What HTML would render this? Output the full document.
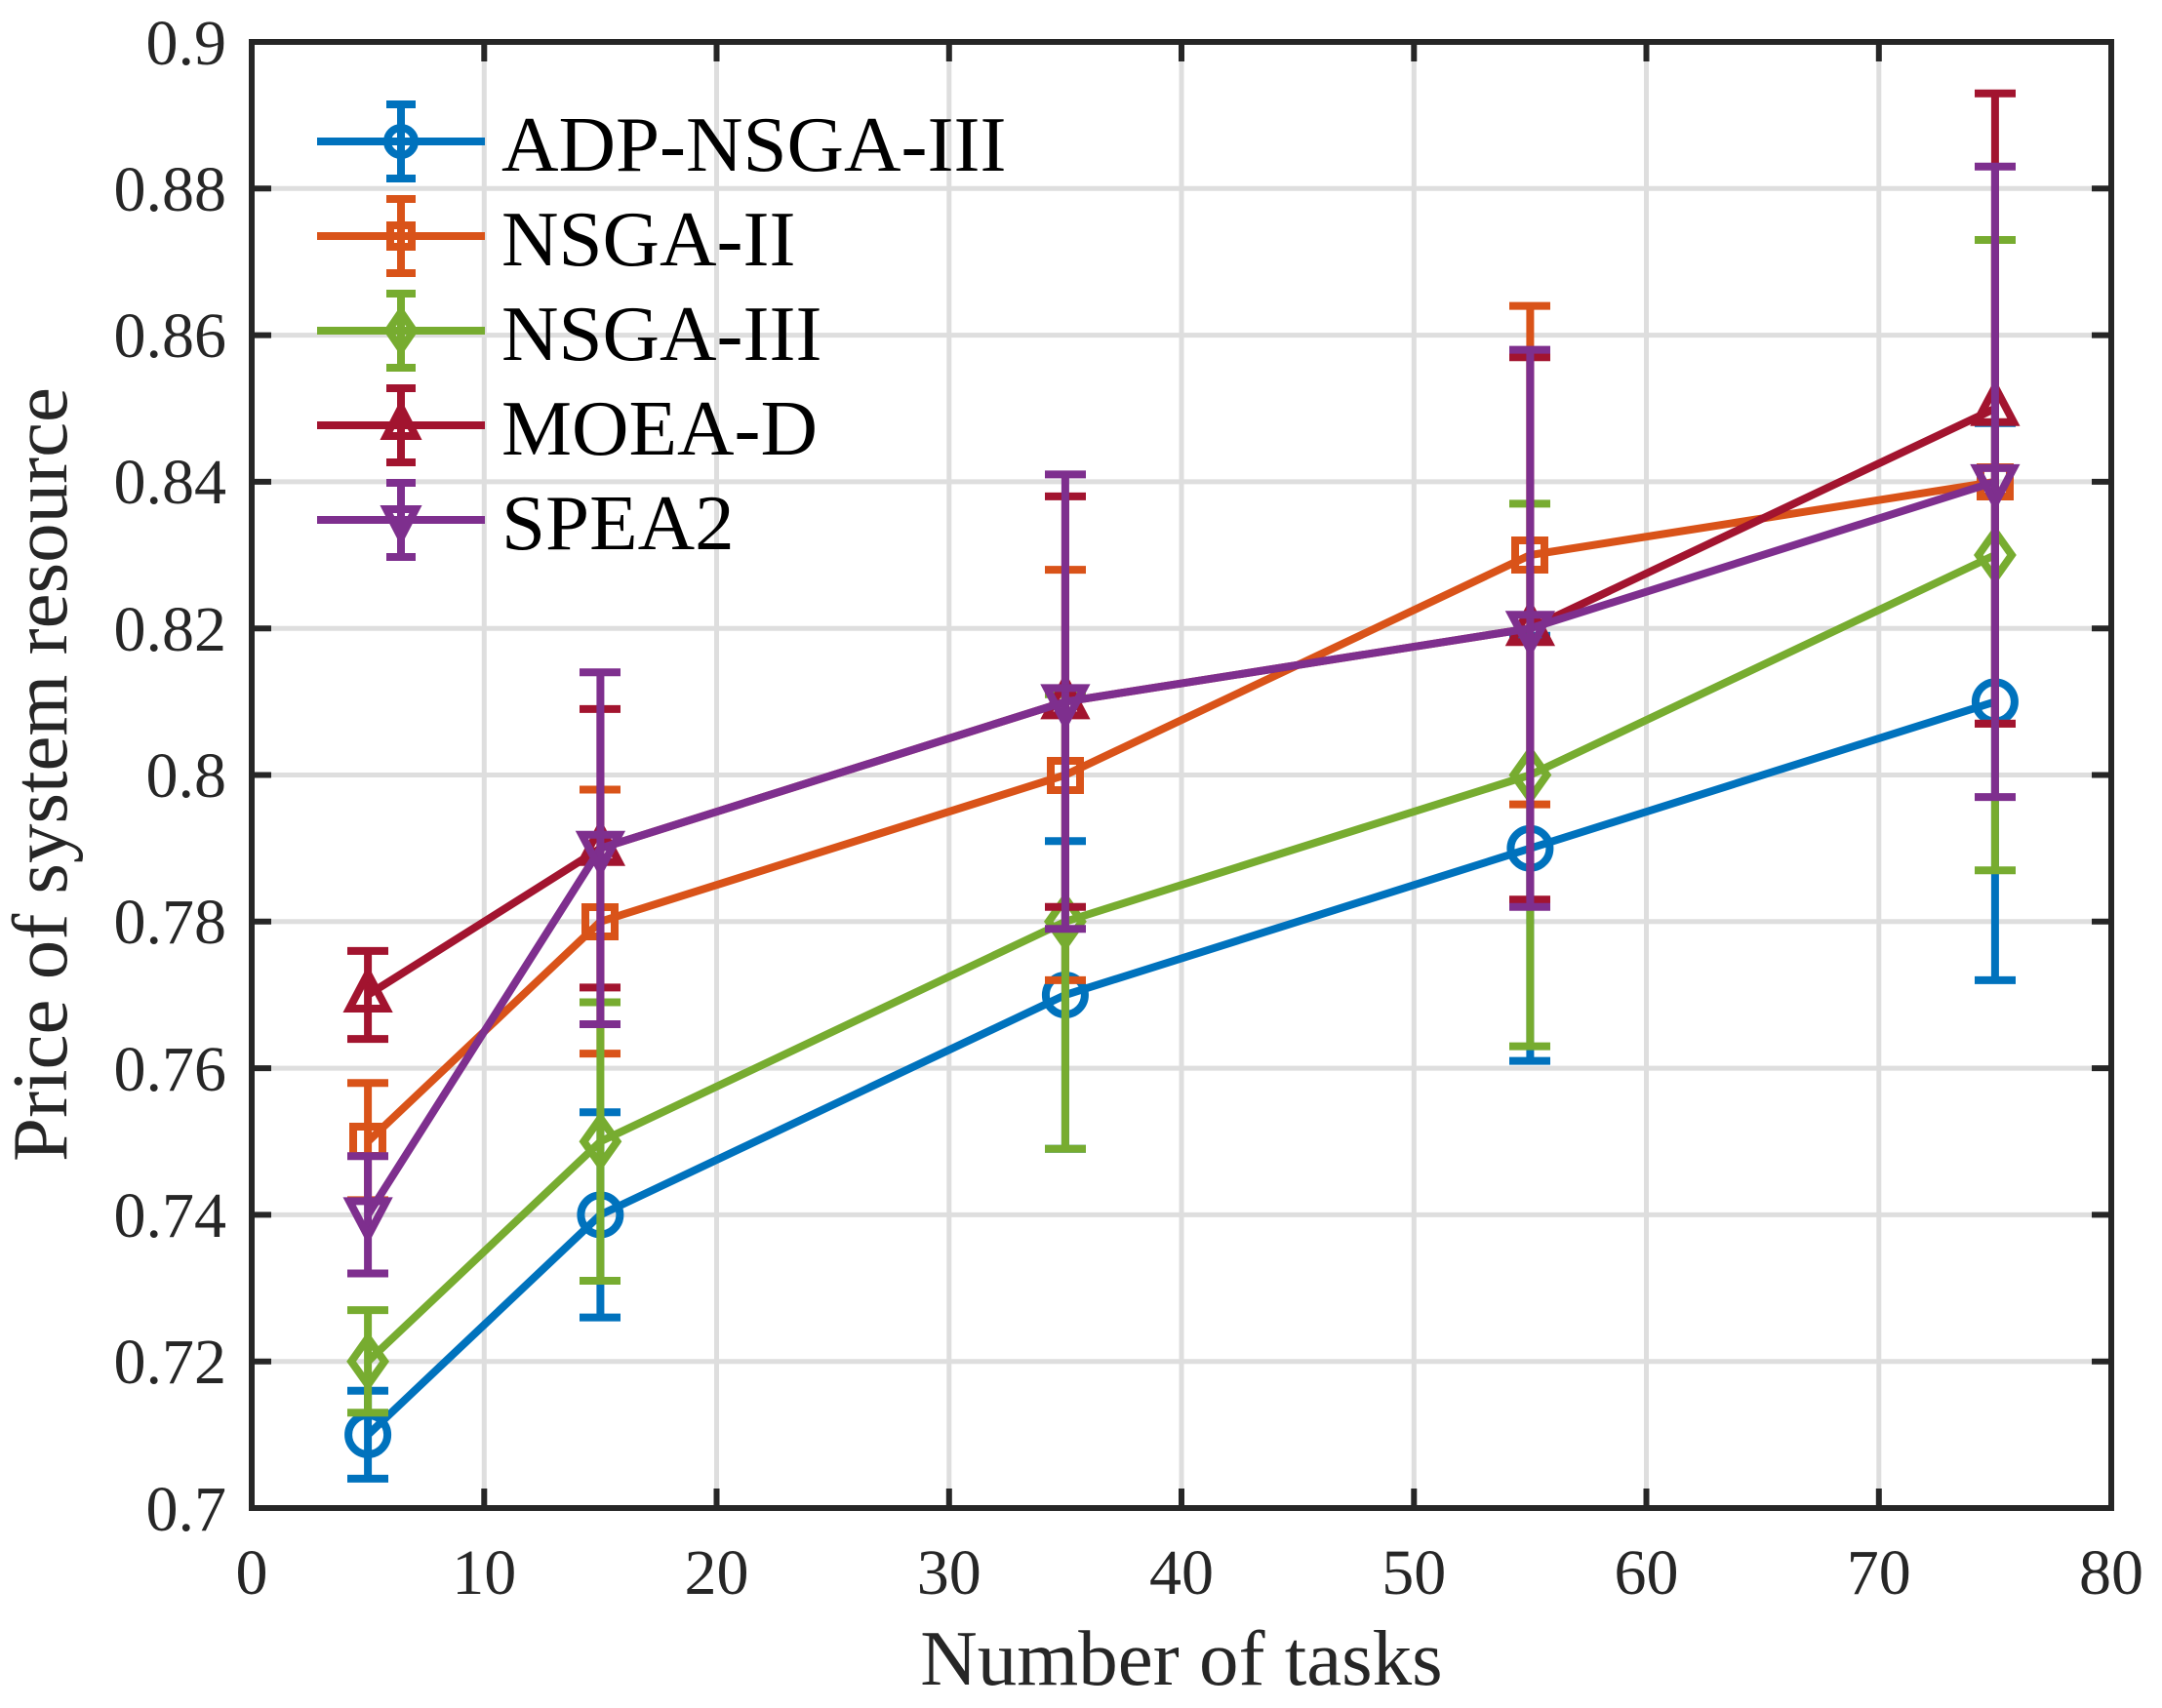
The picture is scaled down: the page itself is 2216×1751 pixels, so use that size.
<!DOCTYPE html>
<html><head><style>
html,body{margin:0;padding:0;background:#fff;}
svg{display:block;}
text{font-family:"Liberation Serif","Times New Roman",serif;fill:#262626;}
</style></head><body>
<svg width="2216" height="1751" viewBox="0 0 2216 1751" xmlns="http://www.w3.org/2000/svg">
<rect width="2216" height="1751" fill="#fff"/>
<g stroke="#dedede" stroke-width="5">
<line x1="496.3" y1="43" x2="496.3" y2="1546"/><line x1="734.5" y1="43" x2="734.5" y2="1546"/>
<line x1="972.8" y1="43" x2="972.8" y2="1546"/><line x1="1211" y1="43" x2="1211" y2="1546"/>
<line x1="1449.3" y1="43" x2="1449.3" y2="1546"/><line x1="1687.5" y1="43" x2="1687.5" y2="1546"/>
<line x1="1925.8" y1="43" x2="1925.8" y2="1546"/>
<line x1="258" y1="1395.7" x2="2164" y2="1395.7"/><line x1="258" y1="1245.4" x2="2164" y2="1245.4"/>
<line x1="258" y1="1095.1" x2="2164" y2="1095.1"/><line x1="258" y1="944.8" x2="2164" y2="944.8"/>
<line x1="258" y1="794.5" x2="2164" y2="794.5"/><line x1="258" y1="644.2" x2="2164" y2="644.2"/>
<line x1="258" y1="493.9" x2="2164" y2="493.9"/><line x1="258" y1="343.6" x2="2164" y2="343.6"/>
<line x1="258" y1="193.3" x2="2164" y2="193.3"/>
</g>
<g stroke="#262626" stroke-width="6">
<path d="M496.3 1546v-20M734.5 1546v-20M972.8 1546v-20M1211 1546v-20M1449.3 1546v-20M1687.5 1546v-20M1925.8 1546v-20
M496.3 43v20M734.5 43v20M972.8 43v20M1211 43v20M1449.3 43v20M1687.5 43v20M1925.8 43v20
M258 1395.7h20M258 1245.4h20M258 1095.1h20M258 944.8h20M258 794.5h20M258 644.2h20M258 493.9h20M258 343.6h20M258 193.3h20
M2164 1395.7h-20M2164 1245.4h-20M2164 1095.1h-20M2164 944.8h-20M2164 794.5h-20M2164 644.2h-20M2164 493.9h-20M2164 343.6h-20M2164 193.3h-20"/>
</g>
<g fill="none" stroke-width="8" stroke-linejoin="miter">
<g stroke="#0072BD">
<polyline points="377.1,1470.9 615.4,1245.4 1091.9,1020 1568.4,869.7 2044.9,719.4"/>
<path d="M377.1 1515.9V1425.8M356 1515.9h42M356 1425.8h42
M615.4 1350.6V1140.2M594 1350.6h42M594 1140.2h42
M1091.9 1177.8V862.2M1071 1177.8h42M1071 862.2h42
M1568.4 1087.6V651.7M1547 1087.6h42M1547 651.7h42
M2044.9 1004.9V433.8M2024 1004.9h42M2024 433.8h42"/>
<circle cx="377.1" cy="1470.9" r="20"/><circle cx="615.4" cy="1245.4" r="20"/><circle cx="1091.9" cy="1020" r="20"/><circle cx="1568.4" cy="869.7" r="20"/><circle cx="2044.9" cy="719.4" r="20"/>
</g>
<g stroke="#D95319">
<polyline points="377.1,1170.3 615.4,944.8 1091.9,794.5 1568.4,569 2044.9,493.9"/>
<path d="M377.1 1230.4V1110.2M356 1230.4h42M356 1110.2h42
M615.4 1080.1V809.5M594 1080.1h42M594 809.5h42
M1091.9 1004.9V584.1M1071 1004.9h42M1071 584.1h42
M1568.4 824.6V313.6M1547 824.6h42M1547 313.6h42
M2044.9 741.9V246M2024 741.9h42M2024 246h42"/>
<rect x="362" y="1155" width="30" height="30"/><rect x="600" y="930" width="30" height="30"/><rect x="1077" y="780" width="30" height="30"/><rect x="1553" y="554" width="30" height="30"/><rect x="2030" y="479" width="30" height="30"/>
</g>
<g stroke="#77AC30">
<polyline points="377.1,1395.7 615.4,1170.3 1091.9,944.8 1568.4,794.5 2044.9,569"/>
<path d="M377.1 1448.3V1343.1M356 1448.3h42M356 1343.1h42
M615.4 1313V1027.5M594 1313h42M594 1027.5h42
M1091.9 1177.8V711.8M1071 1177.8h42M1071 711.8h42
M1568.4 1072.6V516.4M1547 1072.6h42M1547 516.4h42
M2044.9 892.2V246M2024 892.2h42M2024 246h42"/>
<path d="M377.1 1371.7l17 24-17 24-17-24z"/><path d="M615.4 1146.3l17 24-17 24-17-24z"/><path d="M1091.9 920.8l17 24-17 24-17-24z"/><path d="M1568.4 770.5l17 24-17 24-17-24z"/><path d="M2044.9 545l17 24-17 24-17-24z"/>
</g>
<g stroke="#A2142F">
<polyline points="377.1,1020 615.4,869.7 1091.9,719.4 1568.4,644.2 2044.9,418.8"/>
<path d="M377.1 1065.1V974.9M356 1065.1h42M356 974.9h42
M615.4 1012.4V726.9M594 1012.4h42M594 726.9h42
M1091.9 929.8V508.9M1071 929.8h42M1071 508.9h42
M1568.4 922.3V366.2M1547 922.3h42M1547 366.2h42
M2044.9 741.9V95.7M2024 741.9h42M2024 95.7h42"/>
<path d="M377.1 998l19 36h-38z"/><path d="M615.4 847.7l19 36h-38z"/><path d="M1091.9 697.4l19 36h-38z"/><path d="M1568.4 622.2l19 36h-38z"/><path d="M2044.9 396.8l19 36h-38z"/>
</g>
<g stroke="#7E2F8E">
<polyline points="377.1,1245.4 615.4,869.7 1091.9,719.4 1568.4,644.2 2044.9,493.9"/>
<path d="M377.1 1305.5V1185.3M356 1305.5h42M356 1185.3h42
M615.4 1050V689.3M594 1050h42M594 689.3h42
M1091.9 952.3V486.4M1071 952.3h42M1071 486.4h42
M1568.4 929.8V358.6M1547 929.8h42M1547 358.6h42
M2044.9 817.1V170.8M2024 817.1h42M2024 170.8h42"/>
<path d="M377.1 1267.4l19-36h-38z"/><path d="M615.4 891.7l19-36h-38z"/><path d="M1091.9 741.4l19-36h-38z"/><path d="M1568.4 666.2l19-36h-38z"/><path d="M2044.9 515.9l19-36h-38z"/>
</g>
<g stroke="#0072BD"><path d="M325 145h172M411 107v76M396 107h30M396 183h30"/><circle cx="411" cy="145" r="14"/></g>
<g stroke="#D95319"><path d="M325 242h172M411 204v76M396 204h30M396 280h30"/><rect x="400" y="231" width="22" height="22"/></g>
<g stroke="#77AC30"><path d="M325 339h172M411 301v76M396 301h30M396 377h30"/><path d="M411 320l13 19-13 19-13-19z"/></g>
<g stroke="#A2142F"><path d="M325 436h172M411 398v76M396 398h30M396 474h30"/><path d="M411 418l15 29h-30z"/></g>
<g stroke="#7E2F8E"><path d="M325 533h172M411 495v76M396 495h30M396 571h30"/><path d="M411 551l15-29h-30z"/></g>
</g>
<rect x="258" y="43" width="1906" height="1503" fill="none" stroke="#262626" stroke-width="6"/>
<g font-size="81">
<text x="514" y="175" style="fill:#000">ADP-NSGA-III</text>
<text x="514" y="272" style="fill:#000">NSGA-II</text>
<text x="514" y="369" style="fill:#000">NSGA-III</text>
<text x="514" y="466" style="fill:#000">MOEA-D</text>
<text x="514" y="563" style="fill:#000">SPEA2</text>
</g>
<g font-size="66" text-anchor="middle">
<text x="258" y="1634">0</text><text x="496.3" y="1634">10</text><text x="734.5" y="1634">20</text><text x="972.8" y="1634">30</text>
<text x="1211" y="1634">40</text><text x="1449.3" y="1634">50</text><text x="1687.5" y="1634">60</text><text x="1925.8" y="1634">70</text><text x="2164" y="1634">80</text>
</g>
<g font-size="66" text-anchor="end">
<text x="232" y="1569">0.7</text><text x="232" y="1418">0.72</text><text x="232" y="1268">0.74</text><text x="232" y="1118">0.76</text>
<text x="232" y="967">0.78</text><text x="232" y="817">0.8</text><text x="232" y="667">0.82</text><text x="232" y="516">0.84</text>
<text x="232" y="366">0.86</text><text x="232" y="216">0.88</text><text x="232" y="66">0.9</text>
</g>
<text x="1211" y="1727" font-size="81" text-anchor="middle">Number of tasks</text>
<text transform="translate(68,794) rotate(-90)" font-size="81" text-anchor="middle">Price of system resource</text>
</svg>
</body></html>
